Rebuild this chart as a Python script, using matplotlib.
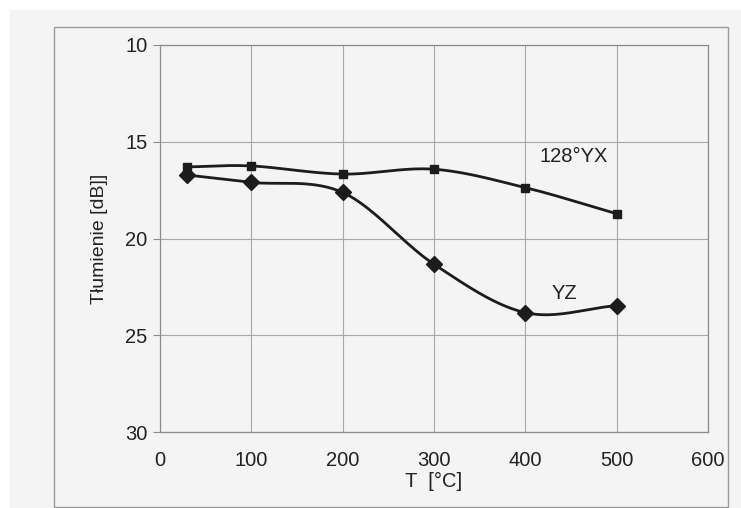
import numpy as np
import matplotlib
matplotlib.use('Agg')
from matplotlib import pyplot as plt
from matplotlib.patches import Rectangle

plt.rcParams['font.family'] = ['Liberation Sans', 'DejaVu Sans']

# data
temp = [30, 100, 200, 300, 400, 500]
yx128 = [16.3, 16.25, 16.67, 16.42, 17.37, 18.72]
yz = [16.72, 17.1, 17.62, 21.33, 23.83, 23.47]
xticks = [0, 100, 200, 300, 400, 500, 600]
yticks = [10, 15, 20, 25, 30]


def smooth(x, y, n=40):
    # catmull-rom style smoothing, like the spreadsheet "smoothed line"
    x = np.asarray(x, float)
    y = np.asarray(y, float)
    px = np.concatenate([[2 * x[0] - x[1]], x, [2 * x[-1] - x[-2]]])
    py = np.concatenate([[2 * y[0] - y[1]], y, [2 * y[-1] - y[-2]]])
    t = np.linspace(0, 1, n)
    xs, ys = [], []
    for i in range(1, len(px) - 2):
        for p, out in ((px, xs), (py, ys)):
            p0, p1, p2, p3 = p[i - 1], p[i], p[i + 1], p[i + 2]
            out.extend(0.5 * ((2 * p1) + (-p0 + p2) * t
                              + (2 * p0 - 5 * p1 + 4 * p2 - p3) * t ** 2
                              + (-p0 + 3 * p1 - 3 * p2 + p3) * t ** 3))
    return np.array(xs), np.array(ys)


W, H = 741, 508
fig = plt.figure(figsize=(W / 100, H / 100), dpi=100, facecolor='white')

# scanned page background and outer chart frame
fig.patches.append(Rectangle((10 / W, 0), 1 - 10 / W, 1 - 10 / H, transform=fig.transFigure,
                             facecolor='#f4f4f4', edgecolor='none', zorder=-3))
fig.patches.append(Rectangle((54 / W, 1 / H), (728 - 54) / W, (507 - 26 - 1) / H,
                             transform=fig.transFigure, facecolor='none',
                             edgecolor='#9a9a9a', lw=1.0, zorder=-2))

ax = fig.add_axes([160 / W, 1 - 432 / H, (708 - 160) / W, (432 - 45) / H])
ax.set_facecolor('#f4f4f4')

ax.set_xlim(0, 600)
ax.set_ylim(30, 10)
ax.set_xticks(xticks)
ax.set_yticks(yticks)
ax.grid(True, color='#a8a8a8', lw=0.8)
ax.set_axisbelow(True)
for s in ax.spines.values():
    s.set_color('#8c8c8c')
    s.set_linewidth(0.9)

ax.tick_params(axis='y', length=5, color='#8c8c8c', pad=4, labelsize=14.5, labelcolor='#222222')
ax.tick_params(axis='x', length=0, pad=14, labelsize=14.5, labelcolor='#222222')

sx, sy = smooth(temp, yx128)
ax.plot(sx, sy, color='#1c1c1c', lw=2.0)
ax.plot(temp, yx128, ls='none', marker='s', ms=6, color='#1c1c1c')

sx, sy = smooth(temp, yz)
ax.plot(sx, sy, color='#1c1c1c', lw=2.0)
ax.plot(temp, yz, ls='none', marker='D', ms=8.5, color='#1c1c1c')

ax.text(0.693, 0.711, '128°YX', transform=ax.transAxes, fontsize=14.5,
        color='#222222', va='center')
ax.text(0.715, 0.359, 'YZ', transform=ax.transAxes, fontsize=14.5,
        color='#222222', va='center')

ax.set_xlabel('T  [°C]', fontsize=14.5, color='#222222', labelpad=1)
ax.set_ylabel('Tłumienie [dB]]', fontsize=14, color='#222222', labelpad=12)

fig.savefig('out.png', dpi=100, facecolor=fig.get_facecolor())
